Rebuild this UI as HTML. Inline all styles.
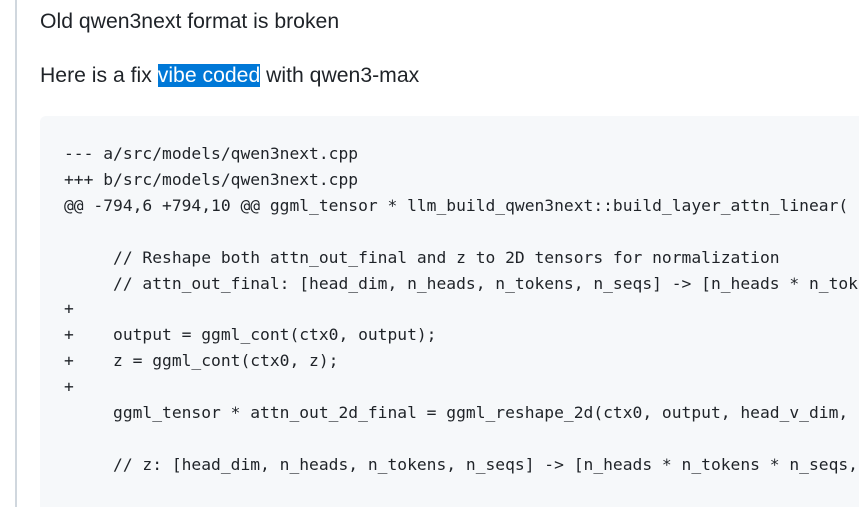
<!DOCTYPE html>
<html><head><meta charset="utf-8"><style>
html,body{margin:0;padding:0;background:#fff;width:859px;height:507px;overflow:hidden;}
.wrap{position:relative;width:859px;height:507px;overflow:hidden;}
.bar{position:absolute;left:15px;top:0;width:2px;height:507px;background:#d0d7de;}
.p{position:absolute;left:40px;font-family:"Liberation Sans",sans-serif;font-size:21.2px;color:#1f2328;white-space:nowrap;}
.sel{background:#0078d7;color:#fff;}
.code{position:absolute;left:40px;top:116px;width:819px;height:391px;background:#f6f8fa;border-radius:6px 0 0 0;overflow:hidden;}
pre{position:absolute;left:24px;top:25px;margin:0;font-family:"DejaVu Sans Mono",monospace;font-size:16.3px;line-height:25.9px;color:#1f2328;}
</style></head><body><div class="wrap">
<div class="bar"></div>
<div class="p" style="top:10px">Old qwen3next format is broken</div>
<div class="p" style="top:64px">Here is a fix <span class="sel">vibe coded</span> with qwen3-max</div>
<div class="code"><pre>--- a/src/models/qwen3next.cpp
+++ b/src/models/qwen3next.cpp
@@ -794,6 +794,10 @@ ggml_tensor * llm_build_qwen3next::build_layer_attn_linear(

     // Reshape both attn_out_final and z to 2D tensors for normalization
     // attn_out_final: [head_dim, n_heads, n_tokens, n_seqs] -&gt; [n_heads * n_tok
+
+    output = ggml_cont(ctx0, output);
+    z = ggml_cont(ctx0, z);
+
     ggml_tensor * attn_out_2d_final = ggml_reshape_2d(ctx0, output, head_v_dim,

     // z: [head_dim, n_heads, n_tokens, n_seqs] -&gt; [n_heads * n_tokens * n_seqs,
</pre></div>
</div></body></html>
